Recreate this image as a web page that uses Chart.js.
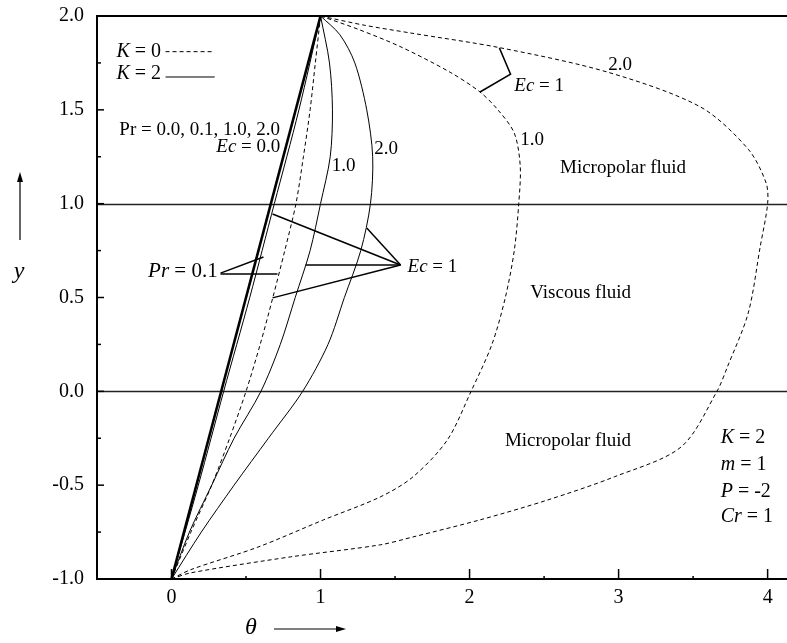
<!DOCTYPE html>
<html>
<head>
<meta charset="utf-8">
<script src="https://cdn.jsdelivr.net/npm/chart.js@4.4.0/dist/chart.umd.min.js"></script>
<style>
  html, body { margin: 0; padding: 0; background: #fff; }
</style>
</head>
<body>
<canvas id="thetaChart" width="787" height="643"></canvas>
<script>
// Ec = 0, every Pr, both K: straight profile
const ec0Theta = [0, 1];
const ec0Y = [-1, 2];

// K = 2 (solid), Ec = 1
const k2Pr01Theta = [0, 0.18, 0.35, 0.525, 0.69, 0.855, 1];
const k2Pr01Y = [-1, -0.5, 0, 0.5, 1, 1.5, 2];

const k2Pr1Theta = [0, 0.12, 0.27, 0.42, 0.60, 0.73, 0.83, 0.93, 1.0, 1.065, 1.08, 1.06, 1.0];
const k2Pr1Y = [-1, -0.75, -0.5, -0.25, 0, 0.25, 0.5, 0.75, 1, 1.25, 1.5, 1.75, 2];

const k2Pr2Theta = [0, 0.20, 0.42, 0.65, 0.88, 1.05, 1.16, 1.27, 1.335, 1.35, 1.31, 1.23, 1.13, 1.0];
const k2Pr2Y = [-1, -0.75, -0.5, -0.25, 0, 0.25, 0.5, 0.75, 1, 1.25, 1.5, 1.75, 1.9, 2];

// K = 0 (dashed), Ec = 1
const k0Pr01Theta = [0, 0.13, 0.27, 0.39, 0.50, 0.595, 0.68, 0.76, 0.835, 0.885, 0.93, 0.965, 1];
const k0Pr01Y = [-1, -0.75, -0.5, -0.25, 0, 0.25, 0.5, 0.75, 1, 1.25, 1.5, 1.75, 2];

const k0Pr1Theta = [0, 0.13, 0.58, 1.02, 1.40, 1.62, 1.85, 2.01, 2.15, 2.24, 2.30, 2.33, 2.34, 2.30, 2.19, 2.07, 1.87, 1.54, 1.25, 1];
const k0Pr1Y = [-1, -0.95, -0.83, -0.685, -0.563, -0.456, -0.26, 0, 0.25, 0.5, 0.75, 1.0, 1.2, 1.376, 1.5, 1.595, 1.70, 1.835, 1.93, 2];

const k0Pr2Theta = [0, 0.13, 0.80, 1.40, 1.62, 2.07, 2.52, 2.97, 3.42, 3.66, 3.73, 3.87, 3.95, 4.0, 3.99, 3.87, 3.55, 2.93, 2.21, 1.6, 1.3, 1];
const k0Pr2Y = [-1, -0.967, -0.882, -0.818, -0.776, -0.685, -0.58, -0.456, -0.296, 0, 0.13, 0.418, 0.77, 1.0, 1.11, 1.29, 1.515, 1.70, 1.83, 1.91, 1.95, 2];

// interfaces between fluid layers
const interfaceY = [0, 1];

const FONT = '"Liberation Serif", "Times New Roman", serif';

function pts(t, y) {
    return t.map(function (v, i) { return { x: v, y: y[i] }; });
}

function curve(t, y, dashed, width) {
    return {
        data: pts(t, y),
        showLine: true,
        borderColor: "#000",
        borderWidth: width || 1,
        borderDash: dashed ? [4, 3] : [],
        pointRadius: 0,
        tension: 0.3,
        fill: false,
    };
}

// write text where parts may be italic
function drawRich(ctx, parts, x, y, align, size) {
    ctx.textBaseline = "middle";
    ctx.textAlign = "left";
    let w = 0;
    parts.forEach(function (p) {
        ctx.font = (p[1] ? "italic " : "") + size + "px " + FONT;
        w += ctx.measureText(p[0]).width;
    });
    let cx = align === "center" ? x - w / 2 : align === "right" ? x - w : x;
    parts.forEach(function (p) {
        ctx.font = (p[1] ? "italic " : "") + size + "px " + FONT;
        ctx.fillText(p[0], cx, y);
        cx += ctx.measureText(p[0]).width;
    });
}

const decorPlugin = {
    id: "decor",
    beforeDatasetsDraw: function (chart) {
        const ctx = chart.ctx, a = chart.chartArea, ys = chart.scales.y;
        ctx.save();
        ctx.strokeStyle = "#222";
        ctx.lineWidth = 1.5;
        interfaceY.forEach(function (v) {
            const p = Math.round(ys.getPixelForValue(v)) + 0.5;
            ctx.beginPath();
            ctx.moveTo(a.left, p);
            ctx.lineTo(a.right, p);
            ctx.stroke();
        });
        ctx.restore();
    },
    afterDraw: function (chart) {
        const ctx = chart.ctx, a = chart.chartArea;
        const xs = chart.scales.x, ys = chart.scales.y;
        const X = function (v) { return xs.getPixelForValue(v); };
        const Y = function (v) { return ys.getPixelForValue(v); };
        ctx.save();
        ctx.fillStyle = "#000";
        ctx.strokeStyle = "#000";

        // frame: left, bottom, top
        ctx.lineWidth = 2;
        ctx.beginPath();
        ctx.moveTo(a.right, a.top);
        ctx.lineTo(a.left, a.top);
        ctx.lineTo(a.left, a.bottom);
        ctx.lineTo(a.right, a.bottom);
        ctx.stroke();

        // inward ticks
        ctx.lineWidth = 1.5;
        for (let v = -1; v <= 2.001; v += 0.25) {
            const major = Math.abs(v * 2 - Math.round(v * 2)) < 1e-6;
            const p = Y(v);
            ctx.beginPath();
            ctx.moveTo(a.left, p);
            ctx.lineTo(a.left + (major ? 7 : 4), p);
            ctx.stroke();
        }
        for (let v = 0; v <= 4.001; v += 0.5) {
            const major = Math.abs(v - Math.round(v)) < 1e-6;
            const p = X(v);
            ctx.beginPath();
            ctx.moveTo(p, a.bottom);
            ctx.lineTo(p, a.bottom - (major ? 10 : 3));
            ctx.stroke();
        }

        // legend
        drawRich(ctx, [["K", true], [" = 0", false]], X(-0.07), Y(1.81), "right", 20);
        drawRich(ctx, [["K", true], [" = 2", false]], X(-0.07), Y(1.69), "right", 20);
        ctx.lineWidth = 1;
        ctx.setLineDash([4, 3]);
        ctx.beginPath();
        ctx.moveTo(X(-0.04), Y(1.81));
        ctx.lineTo(X(0.28), Y(1.81));
        ctx.stroke();
        ctx.setLineDash([]);
        ctx.beginPath();
        ctx.moveTo(X(-0.04), Y(1.675));
        ctx.lineTo(X(0.29), Y(1.675));
        ctx.stroke();

        // leader lines
        ctx.lineWidth = 1.5;
        const seg = function (pairs) {
            ctx.beginPath();
            ctx.moveTo(X(pairs[0][0]), Y(pairs[0][1]));
            for (let i = 1; i < pairs.length; i++) ctx.lineTo(X(pairs[i][0]), Y(pairs[i][1]));
            ctx.stroke();
        };
        seg([[2.20, 1.83], [2.275, 1.69], [2.07, 1.595]]);
        seg([[0.329, 0.63], [0.617, 0.716]]);
        seg([[0.329, 0.625], [0.711, 0.625]]);
        seg([[1.537, 0.673], [0.678, 0.945]]);
        seg([[1.537, 0.673], [0.90, 0.673]]);
        seg([[1.537, 0.673], [0.678, 0.498]]);
        seg([[1.537, 0.673], [1.31, 0.870]]);

        // labels
        drawRich(ctx, [["Pr = 0.0, 0.1, 1.0, 2.0", false]], X(-0.35), Y(1.39), "left", 19);
        drawRich(ctx, [["Ec", true], [" = 0.0", false]], X(0.73), Y(1.30), "right", 19);
        drawRich(ctx, [["1.0", false]], X(1.155), Y(1.20), "center", 19);
        drawRich(ctx, [["2.0", false]], X(1.44), Y(1.29), "center", 19);
        drawRich(ctx, [["1.0", false]], X(2.42), Y(1.34), "center", 19);
        drawRich(ctx, [["2.0", false]], X(3.01), Y(1.74), "center", 19);
        drawRich(ctx, [["Ec", true], [" = 1", false]], X(2.30), Y(1.627), "left", 19);
        drawRich(ctx, [["Micropolar fluid", false]], X(3.03), Y(1.19), "center", 19);
        drawRich(ctx, [["Viscous fluid", false]], X(2.745), Y(0.524), "center", 19);
        drawRich(ctx, [["Micropolar fluid", false]], X(2.66), Y(-0.264), "center", 19);
        drawRich(ctx, [["Pr", true], [" = 0.1", false]], X(0.31), Y(0.636), "right", 21);
        drawRich(ctx, [["Ec", true], [" = 1", false]], X(1.584), Y(0.663), "left", 19);
        drawRich(ctx, [["K", true], [" = 2", false]], X(3.685), Y(-0.248), "left", 20);
        drawRich(ctx, [["m", true], [" = 1", false]], X(3.685), Y(-0.392), "left", 20);
        drawRich(ctx, [["P", true], [" = -2", false]], X(3.685), Y(-0.536), "left", 20);
        drawRich(ctx, [["Cr", true], [" = 1", false]], X(3.685), Y(-0.67), "left", 20);

        // axis titles with arrows
        drawRich(ctx, [["y", true]], 19, 272, "center", 24);
        drawRich(ctx, [["\u03b8", true]], 251, 628, "center", 24);
        ctx.lineWidth = 1.2;
        ctx.beginPath();
        ctx.moveTo(20, 240);
        ctx.lineTo(20, 180);
        ctx.moveTo(274, 629);
        ctx.lineTo(338, 629);
        ctx.stroke();
        ctx.beginPath();
        ctx.moveTo(20, 172); ctx.lineTo(17, 182); ctx.lineTo(23, 182); ctx.closePath();
        ctx.fill();
        ctx.beginPath();
        ctx.moveTo(346, 629); ctx.lineTo(336, 626); ctx.lineTo(336, 632); ctx.closePath();
        ctx.fill();

        ctx.restore();
    },
};

const ctx = document.getElementById("thetaChart").getContext("2d");
new Chart(ctx, {
    type: "scatter",
    data: {
        datasets: [
            curve(ec0Theta, ec0Y, false, 2.6),
            curve(k2Pr01Theta, k2Pr01Y, false, 1),
            curve(k2Pr1Theta, k2Pr1Y, false, 1),
            curve(k2Pr2Theta, k2Pr2Y, false, 1),
            curve(k0Pr01Theta, k0Pr01Y, true, 1),
            curve(k0Pr1Theta, k0Pr1Y, true, 1),
            curve(k0Pr2Theta, k0Pr2Y, true, 1),
        ],
    },
    plugins: [decorPlugin],
    options: {
        responsive: false,
        animation: false,
        devicePixelRatio: 1,
        layout: { padding: { top: 16, right: 0, bottom: 0, left: 0 } },
        plugins: {
            legend: { display: false },
            tooltip: { enabled: false },
        },
        scales: {
            x: {
                type: "linear",
                min: -0.5,
                max: 4.13,
                border: { display: false },
                grid: { display: false, drawTicks: false },
                ticks: {
                    stepSize: 1,
                    includeBounds: false,
                    padding: 7,
                    color: "#000",
                    font: { family: FONT, size: 20 },
                    callback: function (v) { return Number.isInteger(v) ? String(v) : ""; },
                },
                afterFit: function (s) {
                    s.height = 64;
                    s.paddingLeft = 0;
                    s.paddingRight = 0;
                },
            },
            y: {
                type: "linear",
                min: -1,
                max: 2,
                border: { display: false },
                grid: { display: false, drawTicks: false },
                ticks: {
                    stepSize: 0.5,
                    padding: 13,
                    color: "#000",
                    font: { family: FONT, size: 20 },
                    callback: function (v) { return v.toFixed(1); },
                },
                afterFit: function (s) {
                    s.width = 97;
                    s.paddingTop = 0;
                    s.paddingBottom = 0;
                },
            },
        },
    },
});
</script>
</body>
</html>
